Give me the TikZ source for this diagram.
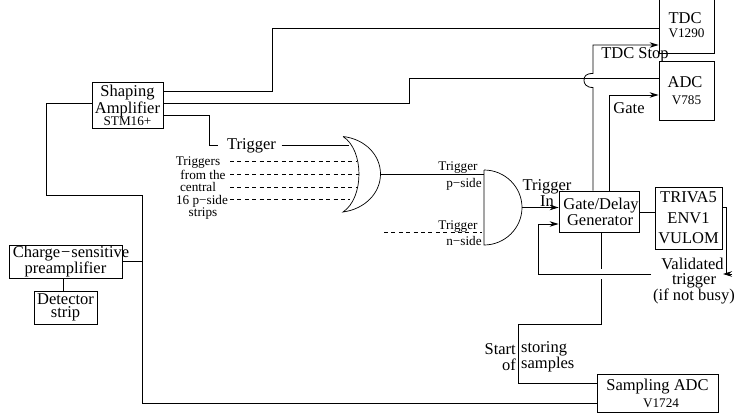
\documentclass[tikz,border=0pt]{standalone}
\usepackage{fontspec}
\setmainfont{Liberation Serif}
\usetikzlibrary{arrows.meta,positioning}
\newcommand{\smalltxt}{\fontsize{13.2}{13}\selectfont}
\begin{document}
\begin{tikzpicture}[
  x=1pt,y=-1pt,
  font=\fontsize{16.5}{16}\selectfont,
  >={Stealth[length=9pt,width=5.5pt]},
  wire/.style={line width=0.8pt},
  dashwire/.style={wire,dash pattern=on 4pt off 3.4pt},
  gateline/.style={line width=0.7pt},
  module/.style={draw,line width=0.8pt,inner sep=0pt,align=center},
  lbl/.style={inner sep=0pt,align=center},
  small/.style={lbl,font=\smalltxt,text height=10pt,text depth=1.5pt},
]
\useasboundingbox (0,0) rectangle (736,415);

% the modules
\node[module,minimum width=71pt,minimum height=46pt,
      font=\fontsize{16.5}{13.5}\selectfont] (shaper) at (127.5,105.5)
     {Shaping\\Amplifier\\[-1pt]{\smalltxt STM16+}};
\node[module,minimum width=55pt,minimum height=55pt] (tdc) at (686.5,25.5)
     {\hspace{-3pt}TDC\\[-2pt]{\smalltxt V1290}};
\node[module,minimum width=55pt,minimum height=59pt] (adc) at (686.5,90.5)
     {\hspace{-3pt}ADC\\[1pt]{\smalltxt V785}};
\node[module,minimum width=80pt,minimum height=41pt] (delay) at (599,211.5)
     {\hspace{4pt}Gate/Delay\\\hspace{2pt}Generator};
\node[module,minimum width=67pt,minimum height=62pt,
      font=\fontsize{16.5}{20.5}\selectfont] (triva) at (688.5,218)
     {TRIVA5\\ENV1\\VULOM};
\node[module,minimum width=121pt,minimum height=38pt] (sampler) at (657.5,393)
     {Sampling ADC\\[1pt]{\smalltxt\hspace{7pt}V1724}};
\node[module,minimum width=113pt,minimum height=33pt] (preamp) at (65.5,261.5)
     {\makebox[0pt]{\hspace{11pt}Charge\kern1pt−\kern1pt sensitive}\\preamplifier};
\node[module,minimum width=63pt,minimum height=33pt,
      font=\fontsize{16.5}{12.5}\selectfont] (strip) at (65.5,307.5)
     {Detector\\strip};

% free labels
\node[lbl,minimum width=60pt] (trigger) at (251.5,145.5) {Trigger};
\node[small] (pa) at (458,166) {Trigger};
\node[small] (pb) at (464,183) {p−side};
\node[small] (na) at (458,225) {Trigger};
\node[small] (nb) at (464,241) {n−side};
\node[lbl,font=\fontsize{16.5}{14}\selectfont] (trigin) at (547,193) {Trigger\\In};
\node[lbl] (stoplbl) at (635,54.5) {TDC Stop};
\node[lbl] (gatelbl) at (629,108) {Gate};
\node[lbl,font=\fontsize{16.5}{14.5}\selectfont] (valid) at (694,281)
     {\hspace{-3pt}Validated\\trigger\\(if not busy)};
\node[lbl,anchor=east,align=right] (startlbl) at (516,357) {Start\\of};
\node[lbl,anchor=west,align=left] (storelbl) at (521,357) {storing\\samples};

% the central strips
\foreach \i/\yy/\xx/\txt in {1/161/198/Triggers,2/175/203/from the,
    3/187/198/central,4/200/202/16 p−side,5/212/203/strips}{
  \node[small] (feed\i) at (\xx,\yy) {\txt};
}
\foreach \i/\yy/\xend in {1/161/356,2/174/359,3/187/356,4/199/350}{
  \coordinate (ina\i) at (230,\yy);
  \coordinate (inb\i) at (\xend,\yy);
  \draw[dashwire] (ina\i) -- (inb\i);
}

% or gate
\coordinate (ortop) at (343,136.5);
\coordinate (orbot) at (343,212);
\coordinate (orout) at (380.5,174);
\draw[gateline] (ortop) .. controls (364.3,150) and (364.3,198) .. (orbot)
      .. controls (365,209) and (380.5,193) .. (orout)
      .. controls (380.5,155) and (365,139) .. (ortop);

% and gate
\coordinate (andtop) at (484,170);
\coordinate (andbot) at (484,245);
\coordinate (andout) at (522,207.5);
\draw[gateline] (andtop) -- (andbot)
      .. controls (505,245) and (522,228) .. (andout)
      .. controls (522,187) and (505,170) .. (andtop);

% shaper outputs
\coordinate (tdclow) at (272,91);
\coordinate (tdchigh) at (272,28);
\draw[wire] (shaper.east |- tdclow) -- (tdclow) -- (tdchigh) -- (tdchigh -| tdc.west);
\coordinate (adclow) at (409,103);
\coordinate (adchigh) at (409,78);
\draw[wire] (shaper.east |- adclow) -- (adclow) -- (adchigh) -- (adchigh -| adc.west);
\coordinate (trigbend) at (209,115);
\coordinate (trigend) at (217.5,145);
\draw[wire] (shaper.east |- trigbend) -- (trigbend) -- (trigbend |- trigend) -- (trigend);
\coordinate (orin) at (349,145);
\draw[wire] (trigger.east |- orin) -- (orin);

% feed to the shaper and the sampler
\coordinate (feedtop) at (46,103);
\coordinate (feedmid) at (142.5,195);
\coordinate (feedlow) at (142.5,403);
\draw[wire] (shaper.west |- feedtop) -- (feedtop) -- (feedtop |- feedmid) -- (feedmid)
      -- (feedlow) -- (feedlow -| sampler.west);
\draw[wire] (preamp.east) -- (preamp.east -| feedmid);
\coordinate (stripx) at (63,285);
\draw[wire] (stripx |- preamp.south) -- (stripx |- strip.north);

% between the gates
\draw[wire] (orout) -- (orout -| andtop);
\coordinate (ninl) at (384,232);
\coordinate (ninr) at (482,232);
\draw[dashwire] (ninl) -- (ninr);
\draw[wire,->] (andout) -- (andout -| delay.west);

% delay outputs
\coordinate (stopx) at (593,45);
\draw[wire,->] (stopx |- delay.north) -- (593,87.5)
      .. controls (586,87.5) and (584,83.5) .. (584,80.5)
      .. controls (584,76) and (586,73.5) .. (593,73.5)
      -- (stopx) -- (stopx -| tdc.west);
\coordinate (gatex) at (609,95);
\draw[wire,->] (gatex |- delay.north) -- (gatex) -- (gatex -| adc.west);
\coordinate (trivain) at (647,212);
\draw[wire] (delay.east |- trivain) -- (triva.west |- trivain);

% validated trigger
\coordinate (outa) at (726,207.5);
\coordinate (outb) at (726,274);
\coordinate (outc) at (732,274);
\coordinate (outd) at (723,274);
\draw[wire] (triva.east |- outa) -- (outa) -- (outb) -- (outc);
\draw[wire,->] (outc) -- (outd);
\coordinate (validin) at (651,274);
\coordinate (backx) at (538,224);
\draw[wire,->] (validin) -- (backx |- validin) -- (backx) -- (backx -| delay.west);

% start storing
\coordinate (storea) at (601,269);
\coordinate (storeb) at (601,279);
\coordinate (storec) at (601,324);
\coordinate (stored) at (518,324);
\coordinate (storee) at (518,383);
\draw[wire] (storea |- delay.south) -- (storea);
\draw[wire] (storeb) -- (storec) -- (stored) -- (storee) -- (storee -| sampler.west);

\end{tikzpicture}
\end{document}
